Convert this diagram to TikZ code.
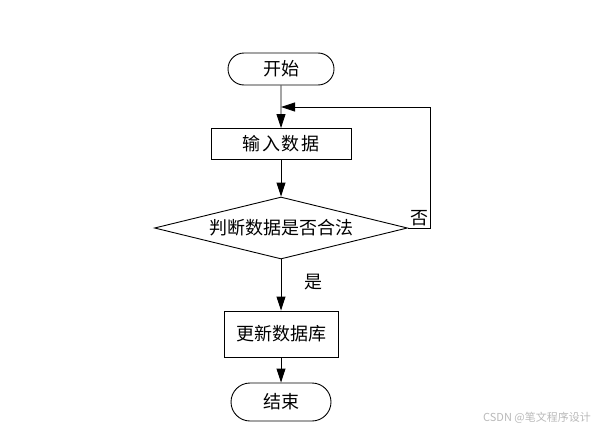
\documentclass[tikz,border=0pt]{standalone}
\usepackage{fontspec}
\newfontfamily\cjk{Noto Sans CJK SC}
\usetikzlibrary{shapes.geometric,shapes.misc,arrows.meta}

\begin{document}
\begin{tikzpicture}[x=1pt,y=-1pt,line width=0.9pt,draw=black,
		>={Triangle[length=14pt,width=9pt]},
		font=\cjk\fontsize{18}{21}\selectfont,
		term/.style={rounded rectangle, draw, inner sep=0pt},
		proc/.style={rectangle, draw, inner sep=0pt},
		decision/.style={diamond, draw, aspect=4.08, inner sep=0pt}]
	\useasboundingbox (0,0) rectangle (594,431);
	\node (start)	at (281, 69)	[term, minimum width=106pt, minimum height=32pt]	{开始};
	\node (input)	at (281,144)	[proc, minimum width=140pt, minimum height=31pt]	{\addfontfeature{LetterSpace=8}输入数据};
	\node (check)	at (281,228)	[decision, minimum width=253pt, minimum height=62pt]	{判断数据是否合法};
	\node (update)	at (281,334)	[proc, minimum width=114pt, minimum height=46pt]	{更新数据库};
	\node (stop)	at (281,402)	[term, minimum width=100pt, minimum height=38pt]	{结束};
	\coordinate (merge)	at (281,107);
	\coordinate (loop)	at (430,107);
	\draw[->] (start) -- (input);
	\draw[->] (input) -- (check);
	\draw[->] (check.east) -| (loop) -- (merge);
	\draw[->] (check) -- (update);
	\draw[->] (update) -- (stop);
	\node (no)	at (419,218)	{否};
	\node (yes)	at (313,282)	{是};
	\node (mark)	at (537,418)	[text=gray!55, font=\cjk\fontsize{11}{13}\selectfont]	{CSDN @笔文程序设计};
\end{tikzpicture}
\end{document}
